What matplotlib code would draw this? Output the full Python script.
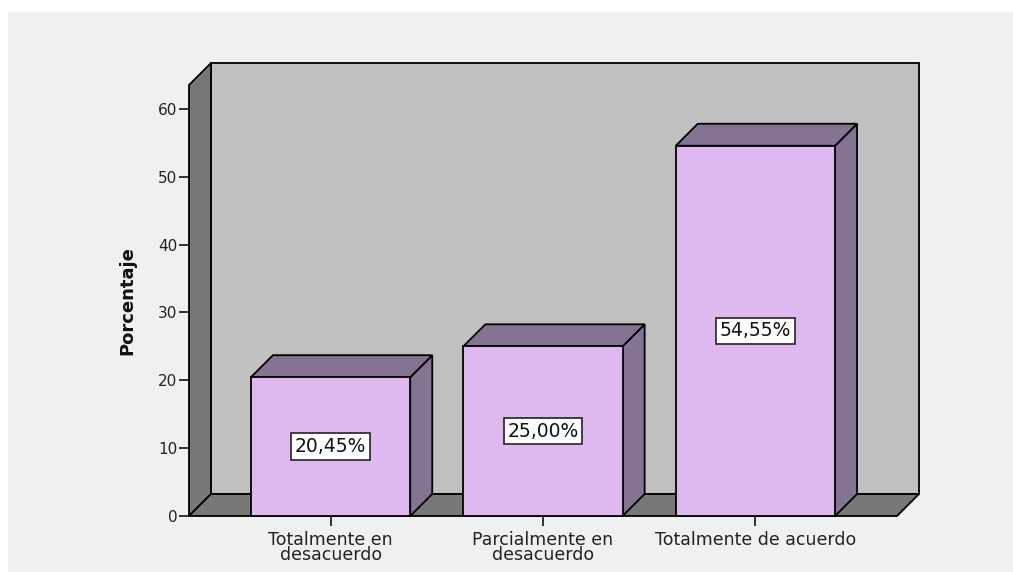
import matplotlib.pyplot as plt
from matplotlib.patches import Polygon, Rectangle

categories = ["Totalmente en\ndesacuerdo", "Parcialmente en\ndesacuerdo", "Totalmente de acuerdo"]
percentages = [20.45, 25.00, 54.55]
y_ticks = [0, 10, 20, 30, 40, 50, 60]

# colours of the 3D box
wall_back = "#c0c0c0"
wall_dark = "#787878"
bar_face = "#dfb8f0"
bar_shade = "#857394"

fig = plt.figure(figsize=(10.13, 5.72), dpi=100, facecolor="white")
fig.patches.append(Rectangle((8 / 1013, 0), 1, (572 - 12) / 572, transform=fig.transFigure,
                             facecolor="#f0f0f0", edgecolor="none", zorder=-10))

ax = fig.add_axes([189 / 1013, 56 / 572, 708 / 1013, 431 / 572])
ax.patch.set_visible(False)
for s in ax.spines.values():
    s.set_visible(False)

x0, x1 = -0.6667, 2.6667
ytop = 63.5
ax.set_xlim(x0, x1)
ax.set_ylim(0, ytop)

# depth offset of the pseudo-3D walls and bars (data units)
dx = 22 / 212.4
dy = 22 / (431 / ytop)
lw = 1.3

def poly(pts, color, z):
    ax.add_patch(Polygon(pts, closed=True, facecolor=color, edgecolor="black",
                         linewidth=lw, clip_on=False, zorder=z, joinstyle="miter"))

# back wall, left wall, floor
poly([(x0 + dx, dy), (x1 + dx, dy), (x1 + dx, ytop + dy), (x0 + dx, ytop + dy)], wall_back, 1)
poly([(x0, 0), (x0, ytop), (x0 + dx, ytop + dy), (x0 + dx, dy)], wall_dark, 2)
poly([(x0, 0), (x1, 0), (x1 + dx, dy), (x0 + dx, dy)], wall_dark, 2)

w = 0.75
for i, v in enumerate(percentages):
    l, r = i - w / 2, i + w / 2
    poly([(r, 0), (r + dx, dy), (r + dx, v + dy), (r, v)], bar_shade, 3)
    poly([(l, v), (r, v), (r + dx, v + dy), (l + dx, v + dy)], bar_shade, 3)
    poly([(l, 0), (r, 0), (r, v), (l, v)], bar_face, 4)
    label = f"{v:.2f}%".replace(".", ",")
    ax.text(i, v / 2, label, ha="center", va="center", fontsize=13.5, color="#111111", zorder=6,
            bbox=dict(boxstyle="square,pad=0.2", facecolor="white", edgecolor="#222222", linewidth=1.2))

ax.set_yticks(y_ticks)
ax.set_yticklabels([str(t) for t in y_ticks])
ax.set_xticks(range(len(categories)))
ax.set_xticklabels(categories, linespacing=0.8)
ax.tick_params(axis="y", length=7.5, width=1.3, direction="out", labelsize=11, colors="#222222", pad=1)
ax.tick_params(axis="x", length=7.5, width=1.3, direction="out", labelsize=12.5, colors="#222222", pad=3)

fig.text(127 / 1013, 1 - 301 / 572, "Porcentaje", rotation=90, ha="center", va="center",
         fontsize=13, fontweight="bold", color="#111111")

fig.savefig("out.png", dpi=100, facecolor=fig.get_facecolor())
